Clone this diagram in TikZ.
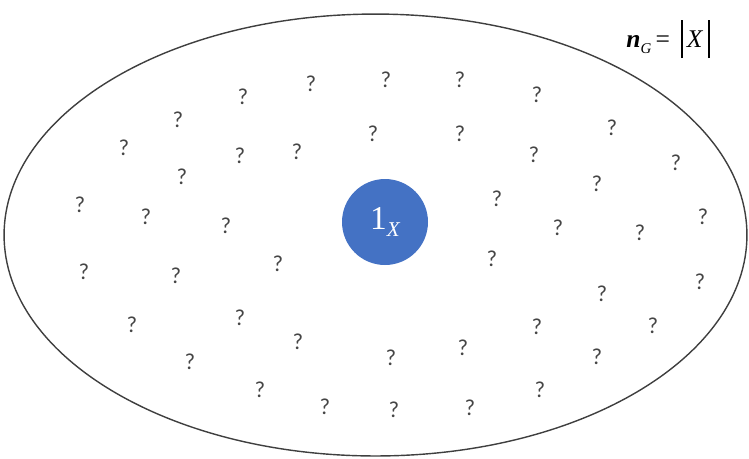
\documentclass[tikz,border=0pt]{standalone}
\usepackage{fontspec}
\setmainfont{Liberation Serif}
\newfontfamily\qfont{Carlito}
\definecolor{officeblue}{HTML}{4472C4}
\definecolor{rimgray}{HTML}{3F3F3F}
\definecolor{qgray}{HTML}{454545}
\newcommand{\setbar}{\rule[-0.4em]{0.08em}{1.5em}}
\begin{document}
\begin{tikzpicture}[x=0.02cm, y=-0.02cm,
    qmark/.style={inner sep=0pt, text=qgray, font=\qfont\fontsize{13}{13}\selectfont},
    unit/.style={circle, fill=officeblue, minimum size=1.72cm, inner sep=0pt, text=white}]
    \useasboundingbox (0,0) rectangle (749,458);
    \draw[rimgray, line width=0.8pt] (375.5,235) ellipse [x radius=7.43cm, y radius=4.42cm];
    \node[unit] (one) at (385,222) {\fontsize{19}{19}\selectfont 1\raisebox{-0.45ex}{\fontsize{12}{12}\selectfont\itshape X}};
    \node[inner sep=0pt] (ng) at (668,39) {\fontsize{14.5}{14.5}\selectfont{\bfseries\itshape n}\raisebox{-0.5ex}{\fontsize{8.5}{8.5}\selectfont\itshape G}\,=\, \setbar\,\textit{X}\,\setbar};
    \foreach \x/\y [count=\i] in {243/97, 311/84, 386/80, 460/80, 537/95,
        178/120, 612/128,
        124/148, 240/156, 297/152, 373/134, 460/134, 534/155, 676/163,
        182/177, 597/184,
        80/205, 146/217, 226/226, 497/199, 558/228, 640/233, 703/217,
        84/272, 176/276, 278/264, 492/259, 700/282, 602/294,
        132/325, 240/318, 298/342, 537/327, 653/326,
        190/362, 391/358, 463/348, 597/357,
        260/390, 325/407, 394/410, 470/408, 540/390} {
        \node[qmark] (q\i) at (\x,\y) {?};
    }
\end{tikzpicture}
\end{document}
